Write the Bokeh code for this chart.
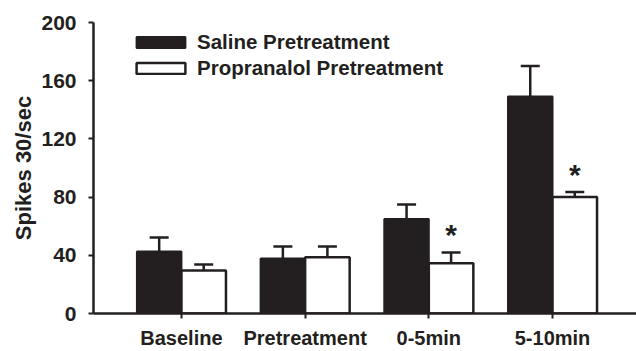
from bokeh.plotting import figure
from bokeh.models import (ColumnDataSource, Whisker, TeeHead, FixedTicker,
                          Legend, LegendItem, Range1d)
from bokeh.core.properties import value
from bokeh.embed import file_html
from bokeh.resources import INLINE

categories = ["Baseline", "Pretreatment", "0-5min", "5-10min"]
saline = [42.6, 37.8, 65.0, 149.2]
saline_err = [9.6, 8.2, 9.9, 20.9]
propranolol = [29.5, 38.7, 34.5, 80.0]
propranolol_err = [4.2, 7.3, 7.4, 3.5]
significance = ["", "", "*", "*"]
series_names = ["Saline Pretreatment", "Propranalol Pretreatment"]
y_ticks = [0, 40, 80, 120, 160, 200]

INK = "#231f20"
FONT = "Liberation Sans"
OFFSET = 0.18
BAR_W = 0.36

idx = list(range(len(categories)))

sal_src = ColumnDataSource(dict(
    x=[i - OFFSET for i in idx], top=saline,
    upper=[v + e for v, e in zip(saline, saline_err)]))
pro_src = ColumnDataSource(dict(
    x=[i + OFFSET for i in idx], top=propranolol,
    upper=[v + e for v, e in zip(propranolol, propranolol_err)]))
star_src = ColumnDataSource(dict(
    x=[i + OFFSET for i in idx],
    y=[v + e for v, e in zip(propranolol, propranolol_err)],
    t=significance))

p = figure(width=636, height=351, output_backend="svg", toolbar_location=None,
           x_range=Range1d(-0.711, 3.679), y_range=Range1d(0, 200),
           min_border_left=93, min_border_right=0, min_border_top=22,
           min_border_bottom=38)
p.outline_line_color = None
p.grid.visible = False
p.background_fill_color = "white"

r1 = p.vbar(x="x", top="top", width=BAR_W, source=sal_src,
            fill_color=INK, line_color=INK, line_width=2)
r2 = p.vbar(x="x", top="top", width=BAR_W, source=pro_src,
            fill_color="white", line_color=INK, line_width=2.5)

for src in (sal_src, pro_src):
    w = Whisker(base="x", upper="upper", lower="top", source=src,
                upper_head=TeeHead(size=19, line_width=2.5, line_color=INK),
                lower_head=None, line_width=2.5, line_color=INK)
    p.add_layout(w)

p.text(x="x", y="y", text="t", source=star_src, text_align="center",
       text_baseline="alphabetic", text_font=value(FONT),
       text_font_style="bold", text_font_size="30px", text_color=INK,
       y_offset=-18)

# axes
p.xaxis.ticker = FixedTicker(ticks=idx)
p.xaxis.major_label_overrides = {i: c for i, c in zip(idx, categories)}
p.yaxis.ticker = FixedTicker(ticks=y_ticks)
for ax in (p.xaxis[0], p.yaxis[0]):
    ax.axis_line_color = INK
    ax.axis_line_width = 2.5
    ax.major_tick_line_color = INK
    ax.major_tick_line_width = 2
    ax.major_tick_in = 0
    ax.major_tick_out = 5
    ax.minor_tick_line_color = None
    ax.major_label_text_font = FONT
    ax.major_label_text_font_style = "bold"
    ax.major_label_text_color = INK
p.xaxis.major_label_text_font_size = "20px"
p.xaxis.major_label_standoff = 8
p.yaxis.major_label_text_font_size = "21px"
p.yaxis.major_label_standoff = 12
p.yaxis.axis_label = "Spikes 30/sec"
p.yaxis.axis_label_text_font = FONT
p.yaxis.axis_label_text_font_style = "bold"
p.yaxis.axis_label_text_font_size = "22px"
p.yaxis.axis_label_text_color = INK
p.yaxis.axis_label_standoff = 2

legend = Legend(items=[LegendItem(label=series_names[0], renderers=[r1]),
                       LegendItem(label=series_names[1], renderers=[r2])],
                location=(37, 233), glyph_width=61, glyph_height=14,
                label_standoff=6, spacing=2, padding=0, margin=0,
                border_line_color=None, background_fill_alpha=0,
                label_text_font=FONT, label_text_font_style="bold",
                label_text_font_size="20.5px", label_text_color=INK)
p.add_layout(legend)

open("out.html", "w").write(file_html(p, INLINE))
